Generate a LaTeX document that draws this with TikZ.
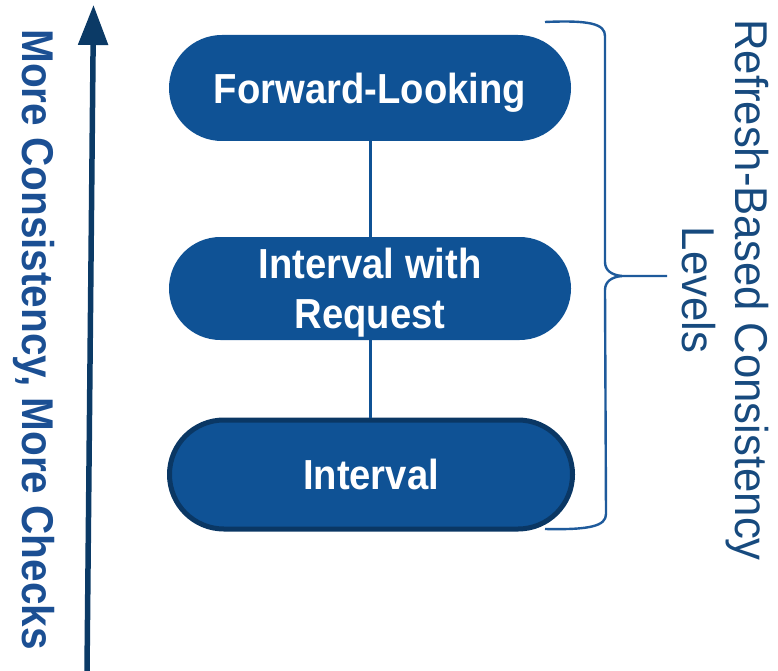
\documentclass[tikz,border=0pt]{standalone}
\usepackage{fontspec}
\usetikzlibrary{arrows.meta}
\newfontfamily\boldnarrow[FakeStretch=0.91]{Liberation Sans Bold}
\newfontfamily\regnarrow[FakeStretch=0.95]{Liberation Sans}
\definecolor{pillfill}{HTML}{0F5295}
\definecolor{pillborder}{HTML}{0A3764}
\definecolor{arrowcol}{HTML}{0B3A66}
\definecolor{lefttext}{HTML}{1B4F93}
\definecolor{righttext}{HTML}{174A7E}
\definecolor{bracecol}{HTML}{1E5A9B}
\tikzset{
  pill/.style={draw=none, fill=pillfill, text=white, inner sep=0pt,
    minimum width=402pt, minimum height=106pt, rounded corners=52.9pt,
    font=\boldnarrow\fontsize{42}{50}\selectfont, align=center, text depth=0pt},
  linkline/.style={draw=pillfill, line width=3pt},
  bracestyle/.style={draw=bracecol, line width=2.4pt, line join=round},
}
\begin{document}
\begin{tikzpicture}[x=1pt,y=-1pt]
\useasboundingbox (0,0) rectangle (778,671);
% arrow
\coordinate (abot) at (87,671);
\coordinate (atop) at (93.5,5);
\draw[arrowcol, line width=5.5pt, -{Triangle[length=40pt,width=29pt]}] (abot) -- (atop);
\node[rotate=-90, text=lefttext, inner sep=0pt, text depth=0pt,
  font=\boldnarrow\fontsize{44.5}{50}\selectfont] (lefttxt) at (39,339.5) {More Consistency, More Checks};
% pills
\node[pill] (fl) at (370,88) {Forward-Looking};
\node[pill, minimum height=103pt, rounded corners=51.4pt] (iwr) at (370,288.5) {Interval with\\Request};
\node[pill, draw=pillborder, line width=5pt, minimum width=403pt, minimum height=109pt, rounded corners=54.4pt] (int) at (371,474.5) {Interval};
% connectors
\draw[linkline] (fl.south) -- (iwr.north);
\draw[linkline] (iwr.south) -- (iwr.south |- int.north);
% brace
\draw[bracestyle]
  (545,22) .. controls (590,20) and (605,24) .. (605,36)
  -- (605,262) .. controls (605,270) and (611,275) .. (622,276)
  -- (667,276);
\draw[bracestyle]
  (622,276) .. controls (611,277) and (605,282) .. (605,290)
  -- (606,514) .. controls (606,526) and (590,530) .. (545,529);
\node[rotate=-90, text=righttext, inner sep=0pt, text depth=0pt, align=center,
  font=\regnarrow\fontsize{46}{53}\selectfont] (righttxt) at (725.3,290) {Refresh-Based Consistency\\Levels};
\end{tikzpicture}
\end{document}
